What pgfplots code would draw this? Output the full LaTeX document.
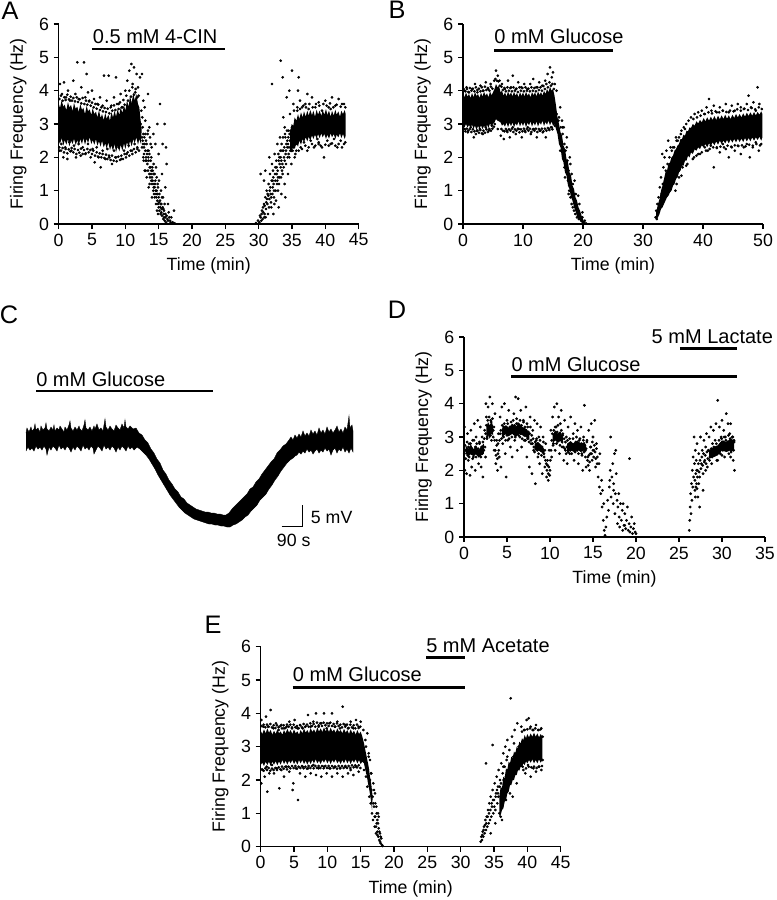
\documentclass[border=0pt]{standalone}
\usepackage{fontspec}
\setmainfont{Liberation Sans}
\usepackage{pgfplots}
\pgfplotsset{compat=1.18}
\newcommand{\fs}{\fontsize{13.3}{16}\selectfont}
\newcommand{\fa}{\fontsize{15}{18}\selectfont}
\newcommand{\fl}{\fontsize{19}{22}\selectfont}
\tikzset{ann/.style={font=\fa, anchor=base west, inner sep=0pt}}
\pgfplotsset{
 panel/.style={scale only axis, width=225pt, height=150pt, anchor=south west,
  axis x line*=bottom, axis y line*=left, ymin=0, ymax=6, ytick={0,1,2,3,4,5,6},
  tick align=outside, major tick length=3.75pt, minor tick num=0,
  major tick style={line width=1.1pt, black}, axis line style={line width=1.1pt, -},
  tick label style={font=\fs},
  /pgf/number format/assume math mode=true,
  xlabel={Time (min)}, ylabel={Firing Frequency (Hz)},
  every axis y label/.style={at={(axis description cs:-0.1347,0.5)}, rotate=90, anchor=center, font=\fs},
  every axis x label/.style={at={(axis description cs:0.5,-0.21)}, anchor=center, font=\fs},
  clip=false},
 dots/.style={only marks, mark=*, mark size=0.8pt, black},
 core/.style={fill=black, draw=none, mark=none},
 bar/.style={line width=2.2pt, black, mark=none},
}
\begin{document}
\begin{tikzpicture}
\path[use as bounding box] (0,0) rectangle (582pt,-675pt);

% ---------- Panel C and letters (pixel-coordinate canvas) ----------
\begin{axis}[scale only axis, width=582pt, height=675pt, at={(291pt,-337.5pt)}, anchor=center,
  xmin=0, xmax=776, ymin=0, ymax=900, y dir=reverse, hide axis, clip=false]
\addplot[fill=black, draw=black, line width=0.3pt, mark=none] coordinates {
(26,433)(27,428)(29,432)(31,427)(32,431)(34,429)(35,424)(36,430)(38,428)(40,432)(41,426)(43,430)(45,428)(46,423)(47,429)(49,431)(51,427)(53,430)(54,425)(55,431)(57,428)(59,430)(60,426)(62,429)(64,432)(65,427)(67,430)(69,425)(70,421)(71,428)(73,431)(75,427)(77,430)(79,426)(80,429)(82,431)(84,425)(85,420)(86,428)(88,430)(90,427)(92,431)(94,426)(95,429)(97,424)(99,430)(101,428)(103,431)(104,425)(105,419)(106,427)(108,430)(110,426)(112,429)(114,431)(116,425)(118,428)(120,430)(122,424)(124,428)(125,420)(126,427)(128,429)(130,426)
(133,429)(136,428)(139,433)(142,435)(145,440)(148,443)(151,449)(154,453)(157,459)(160,463)(163,470)(166,474)(169,480)(172,484)(175,489)(178,492)(181,497)(184,499)(187,503)(190,505)(193,507)(196,509)(199,510)(202,511)(205,512)(208,512)(211,513)(214,513)(217,514)(220,514)(223,515)(226,515)
(229,513)(232,509)(235,506)(238,503)(241,500)(244,497)(247,494)(250,489)(253,487)(256,482)(259,479)(262,474)(265,470)(268,466)(271,462)(274,459)(277,453)(280,450)(283,446)(286,444)
(289,440)(291,437)(293,440)(295,435)(297,438)(299,434)(301,437)(303,431)(305,436)(307,433)(309,436)(311,430)(313,434)(315,431)(317,435)(319,428)(321,433)(323,430)(325,434)(327,427)(329,432)(331,429)(333,433)(335,430)(337,426)(339,432)(341,429)(343,433)(345,427)(347,430)(348,423)(349,416)(350,428)(352,425)(353,431)
(353,452)(351,448)(349,453)(347,449)(345,452)(343,447)(341,451)(339,449)(337,453)(335,448)(333,450)(331,455)(329,449)(327,451)(325,448)(323,452)(321,450)(319,453)(317,449)(315,451)(313,454)(311,450)(309,452)(307,449)(305,453)(303,451)(301,454)(299,452)(297,455)(295,456)(293,458)(290,460)
(287,463)(284,467)(281,471)(278,476)(275,480)(272,485)(269,489)(266,494)(263,497)(260,500)(257,505)(254,508)(251,511)(248,515)(245,517)(242,520)(239,522)(236,524)(233,525)(230,527)(227,527)
(224,526)(221,526)(218,525)(215,525)(212,524)(209,524)(206,523)(203,522)(200,521)(197,520)(194,519)(191,517)(188,515)(185,513)(182,510)(179,507)(176,503)(173,499)(170,495)(167,490)(164,485)(161,480)(158,475)(155,469)(152,464)(149,459)(146,455)(143,452)(140,449)(137,447)
(134,450)(132,447)(130,449)(128,446)(126,451)(124,448)(122,446)(120,450)(118,447)(116,452)(114,448)(112,446)(110,450)(108,447)(106,449)(104,445)(102,451)(100,448)(98,446)(96,450)(94,454)(93,448)(91,446)(89,450)(87,447)(85,449)(83,445)(81,451)(79,448)(77,446)(75,450)(73,447)(71,452)(69,448)(67,446)(65,450)(63,447)(61,449)(59,445)(57,451)(55,448)(53,446)(51,450)(49,447)(47,455)(46,449)(44,446)(42,450)(40,447)(38,449)(36,446)(34,451)(32,448)(30,450)(28,447)(26,451)
};
\addplot[bar] coordinates {(36,391)(213,391)};
\node[ann] at (axis cs:36,386) {0 mM Glucose};
\addplot[line width=1pt, black, mark=none] coordinates {(281.7,526.7)(302.7,526.7)(302.7,505)};
\node[font=\fs, anchor=base west, inner sep=0pt] at (axis cs:310.7,523.3) {5 mV};
\node[font=\fs, anchor=base west, inner sep=0pt] at (axis cs:276.7,546.7) {90 s};
\node[font=\fl, inner sep=0pt] at (axis cs:10,11) {A};
\node[font=\fl, inner sep=0pt] at (axis cs:397,10) {B};
\node[font=\fl, inner sep=0pt] at (axis cs:9,315) {C};
\node[font=\fl, inner sep=0pt] at (axis cs:397,310) {D};
\node[font=\fl, inner sep=0pt] at (axis cs:213,625) {E};
\end{axis}

% ---------- Panel A ----------
\begin{axis}[panel, at={(44pt,-168pt)}, xmin=0, xmax=45, xtick={0,5,...,45}]
\addplot[core] coordinates {(0,3.62)(0.2,3.48)(0.45,3.71)(0.7,3.52)(0.9,3.58)(1.15,3.41)(1.4,3.66)(1.6,3.5)(1.85,3.57)(2.1,3.39)(2.3,3.63)(2.55,3.46)(2.8,3.52)(3.0,3.36)(3.25,3.6)(3.5,3.42)(3.7,3.49)(3.95,3.3)(4.2,3.55)(4.4,3.38)(4.65,3.44)(4.9,3.27)(5.1,3.48)(5.35,3.3)(5.6,3.37)(5.8,3.2)(6.05,3.41)(6.3,3.18)(6.5,3.3)(6.75,3.12)(7.0,3.33)(7.2,3.15)(7.45,3.28)(7.7,3.1)(7.9,3.36)(8.15,3.2)(8.4,3.4)(8.6,3.22)(8.85,3.44)(9.1,3.27)(9.3,3.5)(9.55,3.33)(9.8,3.56)(10.0,3.4)(10.25,3.7)(10.5,3.52)(10.7,3.85)(10.95,3.62)(11.2,3.95)(11.4,3.7)(11.65,3.9)(11.9,3.6)(12.1,3.5)(12.3,3.1)(12.45,2.85)
(12.35,2.4)(12.1,2.55)(11.9,2.38)(11.65,2.6)(11.4,2.42)(11.2,2.55)(10.95,2.33)(10.7,2.5)(10.5,2.28)(10.25,2.46)(10.0,2.25)(9.8,2.42)(9.55,2.2)(9.3,2.38)(9.1,2.18)(8.85,2.35)(8.6,2.15)(8.4,2.4)(8.15,2.2)(7.9,2.36)(7.7,2.22)(7.45,2.45)(7.2,2.25)(7.0,2.42)(6.75,2.3)(6.5,2.5)(6.3,2.32)(6.05,2.48)(5.8,2.35)(5.6,2.55)(5.35,2.38)(5.1,2.52)(4.9,2.4)(4.65,2.6)(4.4,2.42)(4.2,2.56)(3.95,2.38)(3.7,2.58)(3.5,2.4)(3.25,2.55)(3.0,2.35)(2.8,2.52)(2.55,2.37)(2.3,2.56)(2.1,2.4)(1.85,2.5)(1.6,2.33)(1.4,2.55)(1.15,2.38)(0.9,2.52)(0.7,2.35)(0.45,2.58)(0.2,2.4)(0,2.5)};
\addplot[core] coordinates {(34.7,2.75)(34.95,3.0)(35.2,2.95)(35.4,3.2)(35.65,3.1)(35.9,3.3)(36.1,3.15)(36.35,3.35)(36.6,3.2)(36.8,3.38)(37.05,3.22)(37.3,3.4)(37.5,3.25)(37.75,3.42)(38.0,3.26)(38.2,3.4)(38.45,3.22)(38.7,3.43)(38.9,3.28)(39.15,3.4)(39.4,3.24)(39.6,3.42)(39.85,3.28)(40.1,3.45)(40.3,3.27)(40.55,3.4)(40.8,3.22)(41.0,3.4)(41.25,3.25)(41.5,3.43)(41.7,3.28)(41.95,3.38)(42.2,3.22)(42.4,3.4)(42.65,3.3)(42.9,3.42)(43.05,3.3)
(43.05,2.65)(42.9,2.55)(42.65,2.7)(42.4,2.58)(42.2,2.72)(41.95,2.6)(41.7,2.68)(41.5,2.55)(41.25,2.7)(41.0,2.6)(40.8,2.72)(40.55,2.56)(40.3,2.68)(40.1,2.55)(39.85,2.7)(39.6,2.6)(39.4,2.72)(39.15,2.58)(38.9,2.7)(38.7,2.56)(38.45,2.68)(38.2,2.55)(38.0,2.66)(37.75,2.5)(37.5,2.62)(37.3,2.48)(37.05,2.6)(36.8,2.45)(36.6,2.55)(36.35,2.38)(36.1,2.5)(35.9,2.32)(35.65,2.42)(35.4,2.25)(35.2,2.35)(34.95,2.15)(34.7,2.2)};
\addplot[dots] coordinates {
(0.2,4.2)(0.5,3.9)(0.8,4.25)(1.1,3.8)(1.4,4.0)(1.7,3.7)(2.2,4.3)(2.5,3.9)(2.8,4.85)(3.0,3.75)(3.4,4.1)(3.8,4.85)(4.0,3.8)(4.2,4.5)(4.4,3.95)(4.6,3.7)(5.0,4.0)(5.3,3.75)(5.8,3.6)(6.2,3.8)(6.6,3.55)(6.8,4.45)(7.2,3.7)(7.5,4.45)(7.9,3.55)(8.3,3.8)(8.6,4.4)(9.0,3.6)(9.3,3.9)(9.6,3.5)(10.0,4.0)(10.3,4.3)(10.6,4.6)(10.9,4.8)(11.1,4.2)(11.3,4.7)(11.5,3.95)(11.7,4.5)(11.9,4.1)(12.2,4.4)(12.5,4.5)(12.7,3.7)
(0.1,2.2)(0.4,2.4)(0.7,2.0)(1.0,2.3)(1.3,1.95)(1.6,2.45)(1.9,2.2)(2.3,2.35)(2.6,2.0)(3.0,2.4)(3.3,2.05)(3.6,2.3)(4.0,2.1)(4.4,2.4)(4.8,2.0)(5.1,2.25)(5.4,1.85)(5.7,2.3)(6.0,2.0)(6.3,1.7)(6.6,2.2)(7.0,1.95)(7.3,2.25)(7.6,2.0)(8.0,1.8)(8.3,2.2)(8.6,2.0)(9.0,2.3)(9.4,1.95)(9.8,2.2)(10.2,2.1)(10.5,2.35)(11.0,2.2)(11.4,2.4)(11.8,2.25)
(0.1,3.75)(0.35,3.85)(0.6,3.7)(0.85,3.8)(1.05,3.72)(1.3,3.88)(1.55,3.74)(1.8,3.82)(2.0,3.7)(2.2,3.78)(2.45,3.68)(2.7,3.8)(2.9,3.66)(3.15,3.74)(3.4,3.62)(3.6,3.78)(3.85,3.6)(4.1,3.7)(4.3,3.58)(4.55,3.68)(4.8,3.55)(5.0,3.64)(5.25,3.5)(5.5,3.6)(5.7,3.46)(5.95,3.58)(6.2,3.42)(6.4,3.5)(6.65,3.38)(6.9,3.48)(7.1,3.36)(7.35,3.46)(7.6,3.32)(7.8,3.5)(8.05,3.4)(8.3,3.56)(8.5,3.42)(8.75,3.6)(9.0,3.45)(9.2,3.65)(9.45,3.5)(9.7,3.72)(9.9,3.58)(10.15,3.85)(10.4,3.7)(10.6,4.0)(10.85,3.82)(11.05,4.1)(11.3,3.88)(11.55,4.05)(11.8,3.8)(12.0,3.85)
(0.1,2.3)(0.35,2.2)(0.6,2.28)(0.8,2.15)(1.05,2.25)(1.3,2.12)(1.5,2.24)(1.75,2.18)(1.95,2.28)(2.2,2.15)(2.4,2.25)(2.65,2.1)(2.9,2.22)(3.1,2.14)(3.35,2.26)(3.6,2.1)(3.8,2.22)(4.05,2.12)(4.3,2.25)(4.5,2.15)(4.75,2.22)(5.0,2.1)(5.2,2.2)(5.45,2.05)(5.7,2.15)(5.9,2.02)(6.15,2.12)(6.4,2.0)(6.6,2.1)(6.85,1.98)(7.1,2.08)(7.3,1.95)(7.55,2.05)(7.8,1.92)(8.0,2.05)(8.25,1.9)(8.5,2.0)(8.7,1.88)(8.95,2.02)(9.2,1.92)(9.4,2.05)(9.65,1.95)(9.9,2.1)(10.1,2.0)(10.35,2.15)(10.6,2.05)(10.8,2.2)(11.05,2.1)(11.3,2.25)(11.55,2.15)(11.8,2.3)(12.05,2.2)
(12.3,3.0)(12.5,2.6)(12.6,2.9)(12.8,2.3)(12.9,3.5)(13.0,2.7)(13.1,2.0)(13.2,2.4)(13.3,1.8)(13.4,3.9)(13.5,2.2)(13.6,1.5)(13.7,2.6)(13.8,1.9)(13.9,1.3)(14.0,1.4)(14.1,1.6)(14.2,1.0)(14.3,1.2)(14.4,0.8)(14.5,2.4)(14.6,0.9)(14.7,1.4)(14.8,0.7)(14.9,1.1)(15.0,0.5)(15.1,0.9)(15.2,3.6)(15.3,0.6)(15.4,0.35)(15.5,0.8)(15.6,2.4)(15.7,0.45)(15.8,0.2)(15.9,0.6)(16.0,0.3)(16.2,1.8)(16.3,0.15)(16.5,0.35)(16.7,0.1)(16.9,0.2)(17.1,0.05)(17.3,0.4)(17.4,0.02)
(12.4,3.4)(13.0,3.1)(13.6,2.9)(14.2,2.7)(14.8,3.0)(15.0,2.1)(14.0,0.8)(13.5,1.1)(15.5,1.5)(16.0,1.1)(16.4,0.6)(14.6,1.7)(13.8,2.4)(13.2,1.4)(12.7,2.0)(15.9,3.0)(16.1,2.3)(13.4,2.8)(13.9,2.0)(14.4,1.5)(12.9,1.6)(14.9,0.3)
(12.5,2.3)(12.6,2.5)(12.7,2.7)(12.8,2.1)(12.9,2.4)(13.0,2.2)(13.1,2.5)(13.2,1.9)(13.3,2.2)(13.4,1.6)(13.5,1.9)(13.6,2.1)(13.7,1.4)(13.8,1.7)(13.9,1.6)(14.0,1.2)(14.1,1.3)(14.2,1.5)(14.3,0.9)(14.4,1.1)(14.5,1.3)(14.6,0.6)(14.7,1.0)(14.8,0.9)(14.9,0.6)(15.0,0.8)(15.1,0.4)(15.2,0.7)(15.3,0.3)(15.4,0.6)(15.5,0.25)(15.6,0.5)(15.7,0.15)(15.8,0.4)(15.9,0.1)(16.0,0.2)(16.1,0.05)(16.2,0.25)(16.4,0.1)(16.6,0.2)(16.8,0.05)(12.55,3.2)(12.75,1.9)(13.05,1.6)(13.35,2.7)(13.65,1.2)(13.95,2.3)(14.25,1.8)(14.55,1.0)(14.75,0.4)(15.05,1.3)(15.35,1.0)(15.65,0.8)
(12.65,2.4)(12.85,2.6)(13.05,1.9)(13.25,2.1)(13.45,2.0)(13.65,1.7)(13.85,1.5)(14.05,1.7)(14.25,1.1)(14.45,1.2)(14.65,0.8)(14.85,1.2)(15.05,0.65)(15.25,0.5)(15.45,0.45)(15.75,0.3)
(29.6,0.03)(29.9,0.1)(30.1,0.05)(30.3,0.2)(30.5,0.4)(30.6,0.15)(30.8,0.6)(30.9,0.3)(31.0,0.8)(31.1,0.45)(31.2,1.0)(31.3,0.6)(31.4,0.3)(31.5,1.2)(31.6,0.75)(31.7,1.5)(31.8,0.9)(31.9,0.5)(32.0,1.8)(32.1,1.1)(32.2,1.4)(32.3,0.8)(32.4,2.1)(32.5,1.3)(32.6,0.7)(32.7,1.7)(32.8,2.4)(32.9,1.0)(33.0,1.9)(33.1,1.4)(33.2,2.6)(33.3,1.7)(33.3,4.9)(33.4,0.9)(33.5,2.2)(33.6,1.5)(33.7,3.2)(33.8,2.0)(33.9,1.2)(34.0,2.6)(34.1,1.8)(34.2,3.8)(34.3,2.3)(34.4,1.5)(34.5,2.8)(34.6,2.0)(34.7,3.3)(34.8,2.5)(34.9,1.8)(35.0,4.6)(35.0,2.9)(35.1,2.2)(35.2,3.6)(35.3,2.6)(35.4,2.0)(35.5,3.1)(35.6,2.4)(35.8,3.4)(35.9,4.0)(36.0,4.4)(36.1,2.6)(36.2,3.7)
(32.0,4.2)(30.3,1.5)(30.8,1.3)(31.6,2.0)(33.0,0.5)(33.6,4.4)(34.0,0.8)(34.6,4.0)(31.0,1.6)(32.2,0.3)(33.9,2.9)(34.4,2.4)(33.4,1.9)(32.8,1.3)
(30.2,0.25)(30.4,0.1)(30.7,0.35)(30.9,0.55)(31.05,0.2)(31.25,0.75)(31.35,0.9)(31.55,0.5)(31.75,1.1)(31.85,0.65)(31.95,1.3)(32.05,0.9)(32.15,1.6)(32.25,1.2)(32.35,0.6)(32.45,1.5)(32.55,1.0)(32.65,1.9)(32.75,1.2)(32.85,1.6)(32.95,2.1)(33.05,1.2)(33.15,1.8)(33.25,2.2)(33.35,1.4)(33.45,2.4)(33.55,1.8)(33.65,2.6)(33.75,1.7)(33.85,2.3)(33.95,2.7)(34.05,2.1)(34.15,2.4)(34.25,2.8)(34.35,2.0)(34.45,2.6)(34.55,2.3)(34.65,2.7)(34.75,2.2)(34.85,2.8)(34.95,2.4)(35.05,2.6)(35.15,2.9)(35.25,2.3)(35.35,2.8)(35.45,2.5)(35.55,2.7)(35.65,2.2)(35.75,3.0)(35.85,2.5)
(30.45,0.3)(30.65,0.5)(30.85,0.2)(31.15,0.65)(31.45,0.85)(31.65,1.0)(31.9,0.8)(32.1,1.3)(32.3,1.0)(32.5,1.7)(32.7,1.5)(32.9,1.4)(33.1,2.0)(33.3,2.0)(33.5,1.6)(33.7,2.2)(33.9,1.9)(34.1,2.2)(34.3,2.5)(34.5,2.1)(34.7,2.5)(34.9,2.6)(35.1,2.5)(35.3,2.9)(35.5,2.4)(35.7,2.7)
(36.5,3.5)(37,3.6)(37.5,3.45)(38,3.8)(38.5,3.5)(39,3.65)(39.5,3.4)(40,3.7)(40.5,3.5)(41,3.8)(41.5,3.55)(42,3.75)(42.5,3.6)(43,3.5)(37.3,3.9)(40.8,3.45)
(36.3,2.3)(36.8,2.45)(37.3,2.2)(37.8,2.5)(38.3,2.3)(38.8,2.55)(39.3,2.35)(39.8,2.0)(40.3,2.5)(40.8,2.4)(41.3,2.55)(41.8,2.3)(42.3,2.5)(42.8,2.4)(39,2.45)
(35.3,3.4)(35.8,3.5)(36.2,3.45)(36.7,3.55)(37.1,3.5)(37.6,3.6)(38.1,3.5)(38.6,3.6)(39.1,3.55)(39.7,3.6)(40.2,3.55)(40.7,3.62)(41.2,3.5)(41.7,3.58)(42.3,3.52)(42.8,3.6)
(35.5,2.1)(36.0,2.2)(36.5,2.25)(37.0,2.35)(37.5,2.3)(38.0,2.4)(38.5,2.35)(39.0,2.4)(39.5,2.3)(40.0,2.38)(40.5,2.35)(41.0,2.42)(41.5,2.35)(42.0,2.4)(42.5,2.3)(43.0,2.45)
};
\addplot[bar] coordinates {(5,5.25)(25,5.25)};
\node[ann] at (axis cs:5.1,5.43) {0.5 mM 4-CIN};
\end{axis}

% ---------- Panel B ----------
\begin{axis}[panel, at={(347.25pt,-168pt)}, xmin=0, xmax=50, xtick={0,10,...,50}]
\addplot[core] coordinates {(0,3.92)(0.25,3.8)(0.5,3.95)(0.75,3.82)(1.0,3.9)(1.25,3.78)(1.5,3.93)(1.75,3.8)(2.0,3.96)(2.25,3.84)(2.5,3.9)(2.75,3.78)(3.0,3.94)(3.25,3.82)(3.5,3.97)(3.75,3.85)(4.0,3.92)(4.25,3.8)(4.5,3.98)(4.75,3.86)(5.0,3.95)(5.25,4.05)(5.5,4.2)(5.75,4.1)(6.0,4.15)(6.25,3.95)(6.5,4.0)(6.75,3.85)(7.0,3.95)(7.25,3.82)(7.5,3.98)(7.75,3.86)(8.0,3.95)(8.25,3.83)(8.5,3.97)(8.75,3.85)(9.0,3.93)(9.25,3.8)(9.5,3.96)(9.75,3.84)(10.0,3.95)(10.25,3.82)(10.5,3.97)(10.75,3.85)(11.0,3.92)(11.25,3.8)(11.5,3.96)(11.75,3.86)(12.0,3.95)(12.25,3.83)(12.5,3.98)(12.75,3.87)(13.0,3.96)(13.25,3.85)(13.5,4.0)(13.75,3.9)(14.0,4.05)(14.25,3.95)(14.5,4.12)(14.75,4.0)(15.0,4.05)(15.25,3.85)(15.5,3.55)(15.75,3.2)(16.0,3.0)(16.25,2.75)(16.5,2.65)(16.75,2.35)(17.0,2.25)(17.25,1.95)(17.5,1.85)(17.75,1.55)(18.0,1.45)(18.25,1.15)(18.5,1.05)(18.75,0.8)(19.0,0.7)(19.25,0.5)(19.5,0.4)(19.75,0.25)(20.0,0.15)(20.2,0.05)
(19.9,0.02)(19.6,0.08)(19.3,0.15)(19.0,0.22)(18.75,0.4)(18.5,0.5)(18.25,0.7)(18.0,0.8)(17.75,1.05)(17.5,1.15)(17.25,1.45)(17.0,1.55)(16.75,1.85)(16.5,1.95)(16.25,2.3)(16.0,2.4)(15.75,2.7)(15.5,2.85)(15.25,3.0)(15.0,2.95)(14.75,3.08)(14.5,2.96)(14.25,3.1)(14.0,2.98)(13.75,3.06)(13.5,2.94)(13.25,3.1)(13.0,2.98)(12.75,3.05)(12.5,2.92)(12.25,3.08)(12.0,2.95)(11.75,3.05)(11.5,2.92)(11.25,3.08)(11.0,2.96)(10.75,3.04)(10.5,2.9)(10.25,3.06)(10.0,2.94)(9.75,3.05)(9.5,2.92)(9.25,3.08)(9.0,2.95)(8.75,3.02)(8.5,2.9)(8.25,3.05)(8.0,2.93)(7.75,3.04)(7.5,2.9)(7.25,3.05)(7.0,2.92)(6.75,3.0)(6.5,2.95)(6.25,3.05)(6.0,3.08)(5.75,3.1)(5.5,3.15)(5.25,3.05)(5.0,3.0)(4.75,2.92)(4.5,3.02)(4.25,2.88)(4.0,2.98)(3.75,2.86)(3.5,2.95)(3.25,2.84)(3.0,2.96)(2.75,2.85)(2.5,2.94)(2.25,2.82)(2.0,2.95)(1.75,2.86)(1.5,2.98)(1.25,2.88)(1.0,2.97)(0.75,2.9)(0.5,3.0)(0.25,2.9)(0,3.0)};
\addplot[core] coordinates {(32.2,0.35)(32.5,0.6)(32.75,0.75)(33.0,1.0)(33.25,1.15)(33.5,1.35)(33.75,1.55)(34.0,1.6)(34.25,1.8)(34.5,1.85)(34.75,2.0)(35.0,2.05)(35.25,2.2)(35.5,2.25)(35.75,2.35)(36.0,2.4)(36.25,2.55)(36.5,2.55)(36.75,2.68)(37.0,2.65)(37.25,2.8)(37.5,2.78)(37.75,2.9)(38.0,2.88)(38.3,3.0)(38.6,2.95)(38.9,3.08)(39.2,3.02)(39.5,3.12)(39.8,3.05)(40.1,3.18)(40.4,3.08)(40.7,3.2)(41.0,3.1)(41.3,3.22)(41.6,3.12)(41.9,3.24)(42.2,3.12)(42.5,3.25)(42.8,3.14)(43.1,3.26)(43.4,3.15)(43.7,3.28)(44.0,3.16)(44.3,3.26)(44.6,3.15)(44.9,3.28)(45.2,3.18)(45.5,3.3)(45.8,3.2)(46.1,3.3)(46.4,3.2)(46.7,3.32)(47.0,3.22)(47.3,3.34)(47.6,3.24)(47.9,3.35)(48.2,3.25)(48.5,3.36)(48.8,3.26)(49.1,3.36)(49.4,3.28)(49.7,3.38)(49.9,3.3)
(49.9,2.6)(49.7,2.5)(49.4,2.62)(49.1,2.52)(48.8,2.6)(48.5,2.5)(48.2,2.6)(47.9,2.48)(47.6,2.58)(47.3,2.48)(47.0,2.58)(46.7,2.46)(46.4,2.56)(46.1,2.46)(45.8,2.56)(45.5,2.45)(45.2,2.55)(44.9,2.44)(44.6,2.54)(44.3,2.42)(44.0,2.52)(43.7,2.42)(43.4,2.5)(43.1,2.4)(42.8,2.5)(42.5,2.38)(42.2,2.48)(41.9,2.36)(41.6,2.45)(41.3,2.34)(41.0,2.42)(40.7,2.3)(40.4,2.4)(40.1,2.3)(39.8,2.36)(39.5,2.25)(39.2,2.3)(38.9,2.2)(38.6,2.24)(38.3,2.1)(38.0,2.15)(37.75,2.0)(37.5,2.05)(37.25,1.9)(37.0,1.9)(36.75,1.75)(36.5,1.75)(36.25,1.6)(36.0,1.55)(35.75,1.4)(35.5,1.35)(35.25,1.2)(35.0,1.15)(34.75,1.0)(34.5,0.95)(34.25,0.85)(34.0,0.8)(33.75,0.7)(33.5,0.6)(33.25,0.5)(33.0,0.45)(32.75,0.3)(32.5,0.2)(32.2,0.15)};
\addplot[dots] coordinates {
(0.2,4.0)(0.6,4.1)(1.0,3.95)(1.5,4.05)(2.0,4.2)(2.4,3.95)(2.9,4.15)(3.3,4.0)(3.8,4.25)(4.2,4.05)(4.6,4.2)(5.2,4.3)(5.5,4.6)(5.8,4.45)(6.1,4.3)(6.5,4.2)(7.0,4.05)(7.5,4.3)(8.0,4.1)(8.3,4.45)(8.8,4.05)(9.2,4.25)(9.7,4.1)(10.2,4.2)(10.7,4.05)(11.2,4.2)(11.7,4.35)(12.2,4.1)(12.7,4.25)(13.2,4.15)(13.7,4.3)(14.1,4.5)(14.5,4.7)(14.8,4.4)(15.0,4.55)(15.3,4.2)(15.6,4.0)
(0.3,2.85)(0.8,2.75)(1.3,2.9)(1.8,2.6)(2.3,2.8)(2.8,2.85)(3.3,2.7)(3.8,2.9)(4.3,2.8)(4.8,2.95)(5.3,3.0)(5.8,2.85)(6.3,2.65)(6.8,2.55)(7.3,2.8)(7.8,2.6)(8.3,2.9)(8.8,2.7)(9.3,2.85)(9.8,2.6)(10.3,2.8)(10.8,2.9)(11.3,2.7)(11.8,2.85)(12.3,2.6)(12.8,2.8)(13.3,2.75)(13.8,2.6)(14.3,2.85)(14.8,2.9)(15.3,2.95)
(0.1,4.05)(0.4,3.98)(0.65,4.05)(0.9,3.96)(1.15,4.08)(1.4,4.0)(1.65,4.06)(1.9,3.98)(2.15,4.1)(2.4,4.02)(2.65,4.06)(2.9,3.98)(3.15,4.1)(3.4,4.0)(3.65,4.12)(3.9,4.02)(4.15,4.08)(4.4,4.0)(4.65,4.12)(4.9,4.06)(5.4,4.35)(5.65,4.3)(5.9,4.28)(6.15,4.15)(6.4,4.12)(6.65,4.02)(6.9,4.08)(7.15,3.98)(7.4,4.1)(7.65,4.0)(7.9,4.08)(8.15,3.98)(8.4,4.1)(8.65,4.0)(8.9,4.06)(9.15,3.96)(9.4,4.1)(9.65,4.0)(9.9,4.08)(10.15,3.98)(10.4,4.1)(10.65,4.0)(10.9,4.06)(11.15,3.98)(11.4,4.1)(11.65,4.0)(11.9,4.08)(12.15,3.98)(12.4,4.1)(12.65,4.02)(12.9,4.1)(13.15,4.0)(13.4,4.14)(13.65,4.05)(13.9,4.2)(14.15,4.1)(14.4,4.25)(14.65,4.15)(14.9,4.2)(15.15,4.05)
(0.15,2.85)(0.4,2.78)(0.65,2.86)(0.9,2.8)(1.15,2.85)(1.4,2.76)(1.65,2.84)(1.9,2.78)(2.15,2.7)(2.4,2.8)(2.65,2.74)(2.9,2.82)(3.15,2.72)(3.4,2.8)(3.65,2.74)(3.9,2.84)(4.15,2.76)(4.4,2.85)(4.65,2.8)(4.9,2.86)(5.15,2.92)(6.4,2.85)(6.65,2.8)(6.9,2.78)(7.15,2.85)(7.4,2.76)(7.65,2.84)(7.9,2.8)(8.15,2.86)(8.4,2.76)(8.65,2.84)(8.9,2.8)(9.15,2.86)(9.4,2.75)(9.65,2.84)(9.9,2.78)(10.15,2.86)(10.4,2.76)(10.65,2.85)(10.9,2.8)(11.15,2.86)(11.4,2.76)(11.65,2.84)(11.9,2.8)(12.15,2.86)(12.4,2.76)(12.65,2.85)(12.9,2.8)(13.15,2.86)(13.4,2.78)(13.65,2.86)(13.9,2.8)(14.15,2.88)(14.4,2.82)(14.65,2.9)(14.9,2.84)
(15.6,3.3)(15.8,2.9)(16.0,3.2)(16.1,2.6)(16.3,2.9)(16.4,2.4)(16.6,2.7)(16.7,2.1)(16.9,2.4)(17.0,1.8)(17.1,2.2)(17.2,1.6)(17.4,1.9)(17.5,1.3)(17.6,1.6)(17.7,1.0)(17.8,1.4)(17.9,0.8)(18.0,1.1)(18.1,0.6)(18.2,0.9)(18.3,0.5)(18.4,0.8)(18.5,0.4)(18.6,0.7)(18.7,0.3)(18.9,0.55)(19.0,0.2)(19.2,0.4)(19.3,0.15)(19.5,0.3)(19.7,0.1)(19.9,0.2)(20.1,0.05)(20.3,0.1)(20.5,0.02)(16.2,3.5)(16.5,3.1)(17.3,2.6)(17.8,2.0)(18.3,1.2)(18.8,0.9)(19.4,0.6)(17.0,1.4)(17.6,0.9)(18.1,1.5)(16.8,2.9)
(15.9,3.1)(16.2,2.2)(16.6,2.9)(16.9,1.7)(17.3,2.3)(17.6,1.3)(17.9,1.8)(18.2,0.95)(18.6,1.3)(18.9,0.4)(19.2,0.85)(19.6,0.15)(19.9,0.35)
(32.1,0.2)(32.2,0.4)(32.3,0.15)(32.4,0.6)(32.5,0.35)(32.6,0.8)(32.8,1.1)(32.9,0.6)(33.0,1.4)(33.1,0.9)(33.2,2.1)(33.3,1.2)(33.4,1.7)(33.5,0.8)(33.6,2.0)(33.7,1.3)(33.8,1.6)(33.9,2.2)(34.0,1.1)(34.1,1.8)(34.2,2.5)(34.3,1.4)(34.4,2.0)(34.5,1.6)(34.6,2.3)(34.7,1.3)(34.8,2.2)(34.9,1.8)(35.0,2.3)(35.1,1.5)(35.2,2.3)(35.3,2.0)(35.5,2.6)(35.6,1.8)(35.8,2.5)(35.9,2.1)(36.0,2.6)(36.2,2.3)(36.4,2.8)(36.6,1.7)(36.8,2.9)(37.0,2.4)(37.2,3.0)(37.4,1.8)(37.6,3.1)(37.8,2.5)(38.0,3.2)(38.3,1.95)(38.6,3.3)(38.9,2.05)(39.2,3.35)(39.5,2.1)(39.8,3.4)(36.0,1.4)(35.4,1.0)
(40.2,3.3)(40.6,3.5)(41.0,3.75)(41.4,3.4)(41.8,3.55)(42.3,3.35)(42.8,3.5)(43.3,3.4)(43.8,3.6)(44.3,3.35)(44.8,3.55)(45.3,3.4)(45.8,3.6)(46.3,3.5)(46.8,3.45)(47.3,3.6)(47.6,3.85)(48.0,3.5)(48.4,3.65)(48.8,3.4)(49.1,4.1)(49.4,3.6)(49.8,3.45)
(40.3,2.3)(40.8,2.2)(41.3,2.35)(41.8,1.7)(42.3,2.3)(42.8,2.15)(43.3,2.4)(43.8,2.25)(44.3,2.0)(44.8,2.3)(45.3,2.2)(45.8,2.35)(46.3,2.1)(46.8,2.3)(47.3,2.4)(47.8,2.0)(48.3,2.3)(48.8,2.45)(49.3,2.2)(49.7,2.4)
(40.3,3.3)(40.9,3.35)(41.5,3.32)(42.1,3.38)(42.7,3.35)(43.3,3.4)(43.9,3.36)(44.5,3.4)(45.1,3.38)(45.7,3.44)(46.3,3.4)(46.9,3.46)(47.5,3.42)(48.1,3.48)(48.7,3.44)(49.3,3.5)(38.4,3.15)(39.0,3.2)(39.6,3.25)(37.0,2.85)(36.3,2.7)(35.6,2.5)
(40.5,2.2)(41.1,2.25)(41.7,2.3)(42.3,2.28)(42.9,2.32)(43.5,2.3)(44.1,2.35)(44.7,2.32)(45.3,2.36)(45.9,2.34)(46.5,2.36)(47.1,2.33)(47.7,2.38)(48.3,2.35)(48.9,2.4)(49.5,2.36)(38.5,2.0)(39.2,2.1)(39.8,2.15)(37.2,1.75)(36.4,1.45)(35.6,1.2)
};
\addplot[bar] coordinates {(5.2,5.2)(25,5.2)};
\node[ann] at (axis cs:5.2,5.43) {0 mM Glucose};
\end{axis}

% ---------- Panel D ----------
\begin{axis}[panel, at={(348pt,-402.75pt)}, width=225.75pt, xmin=0, xmax=35, xtick={0,5,...,35}]
\addplot[core] coordinates {(0.2,2.75)(0.5,2.65)(0.8,2.78)(1.1,2.62)(1.4,2.75)(1.7,2.6)(2.0,2.72)(2.3,2.8)(2.3,2.5)(2.0,2.45)(1.7,2.38)(1.4,2.5)(1.1,2.4)(0.8,2.52)(0.5,2.4)(0.2,2.5)};
\addplot[core] coordinates {(2.6,3.3)(2.8,3.45)(3.0,3.35)(3.2,3.5)(3.4,3.3)(3.4,3.05)(3.2,3.1)(3.0,2.95)(2.8,3.05)(2.6,2.95)};
\addplot[core] coordinates {(4.4,3.25)(4.8,3.35)(5.2,3.28)(5.6,3.4)(6.0,3.3)(6.4,3.42)(6.8,3.3)(7.2,3.25)(7.6,3.1)(7.6,2.9)(7.2,3.0)(6.8,3.05)(6.4,3.1)(6.0,3.0)(5.6,3.1)(5.2,3.02)(4.8,3.08)(4.4,2.98)};
\addplot[core] coordinates {(8.2,2.8)(8.6,2.85)(9.0,2.75)(9.3,2.65)(9.3,2.45)(9.0,2.55)(8.6,2.6)(8.2,2.6)};
\addplot[core] coordinates {(10.3,3.05)(10.6,3.2)(10.9,3.1)(11.2,3.18)(11.5,3.0)(11.5,2.8)(11.2,2.88)(10.9,2.82)(10.6,2.9)(10.3,2.8)};
\addplot[core] coordinates {(12.0,2.8)(12.4,2.88)(12.8,2.78)(13.2,2.9)(13.6,2.8)(14.0,2.85)(14.2,2.75)(14.2,2.55)(14.0,2.6)(13.6,2.55)(13.2,2.62)(12.8,2.55)(12.4,2.6)(12.0,2.55)};
\addplot[core] coordinates {(28.5,2.6)(29.0,2.7)(29.5,2.75)(30.0,2.9)(30.5,2.85)(31.0,2.95)(31.4,2.9)(31.4,2.6)(31.0,2.6)(30.5,2.55)(30.0,2.6)(29.5,2.45)(29.0,2.4)(28.5,2.35)};
\addplot[dots, mark size=0.85pt] coordinates {
(0.05,3.3)(0.1,2.0)(0.2,2.6)(0.3,1.9)(0.4,3.1)(0.5,2.3)(0.6,2.8)(0.7,1.85)(0.8,3.2)(0.9,2.1)(1.0,2.9)(1.1,2.4)(1.2,3.4)(1.3,2.0)(1.4,3.0)(1.5,2.5)(1.6,3.5)(1.7,2.2)(1.8,2.8)(1.9,3.3)(2.0,2.1)(2.1,3.0)(2.2,1.8)(2.3,2.6)(2.4,3.2)(2.5,2.4)(2.55,4.0)
(2.6,3.6)(2.7,3.0)(2.8,3.9)(2.9,3.3)(3.0,4.2)(3.1,3.5)(3.2,2.9)(3.3,4.0)(3.4,3.2)(3.5,2.6)(3.6,3.7)(3.7,2.2)(3.8,2.9)(3.9,2.0)(3.95,2.5)
(4.0,3.1)(4.1,2.4)(4.2,3.6)(4.3,2.1)(4.4,3.9)(4.5,2.8)(4.6,3.3)(4.7,4.0)(4.8,2.5)(4.9,1.8)(5.0,3.5)(5.1,2.9)(5.2,3.8)(5.4,2.7)(5.5,3.2)(5.6,2.4)(5.8,3.7)(5.9,2.9)(6.0,4.2)(6.1,3.4)(6.2,2.6)(6.3,4.15)(6.5,3.0)(6.6,3.8)(6.7,2.7)(6.9,3.5)(7.0,2.9)(7.2,3.9)(7.3,2.4)(7.4,3.3)(7.6,2.1)(7.7,3.6)(7.8,2.8)(7.9,1.9)(8.0,3.2)
(8.1,2.6)(8.2,3.5)(8.3,1.6)(8.4,2.9)(8.5,3.4)(8.6,2.4)(8.7,3.0)(8.8,2.2)(8.9,3.3)(9.0,2.7)(9.1,1.9)(9.2,3.0)(9.3,2.5)(9.4,2.1)(9.5,2.8)(9.6,1.8)(9.7,2.3)(9.8,1.7)(9.9,2.6)(10.0,2.0)
(10.1,3.2)(10.2,2.4)(10.3,3.6)(10.4,2.8)(10.5,3.9)(10.6,2.6)(10.7,3.3)(10.8,4.0)(10.9,2.9)(11.0,3.6)(11.1,2.5)(11.2,3.4)(11.3,3.8)(11.4,2.7)(11.5,3.1)(11.6,2.3)(11.7,3.5)(11.8,2.6)(11.9,3.0)(12.0,2.2)(12.1,3.3)(12.3,2.5)(12.4,3.6)(12.5,2.8)(12.7,3.1)(12.8,2.3)(12.9,3.4)(13.0,2.6)(13.2,3.2)(13.3,2.2)(13.4,2.9)(13.6,3.3)(13.7,2.5)(13.8,2.0)(13.9,3.0)(14.0,3.95)(14.1,2.6)(14.2,2.1)(14.3,2.9)(14.4,2.4)(14.5,3.2)(14.6,2.0)(14.7,2.7)(14.8,3.4)(14.9,2.3)(15.0,3.0)(15.1,2.6)(15.2,3.5)(15.3,2.1)(15.4,2.8)(15.5,2.4)
(0.04,2.5)(0.12,2.75)(0.2,2.35)(0.28,2.6)(0.36,2.85)(0.44,2.45)(0.52,2.7)(0.6,2.4)(0.68,2.55)(0.76,2.8)(0.84,2.5)(0.92,2.65)(1.0,2.35)(1.08,2.6)(1.16,2.9)(1.24,2.5)(1.32,2.7)(1.4,2.4)(1.48,2.8)(1.56,2.55)(1.64,2.65)(1.72,2.45)(1.8,2.85)(1.88,2.6)(1.96,2.4)(2.04,2.7)(2.12,2.5)(2.2,2.85)(2.28,2.6)(2.36,2.95)(2.44,2.7)
(2.52,3.1)(2.6,3.35)(2.68,2.95)(2.76,3.5)(2.84,3.2)(2.92,3.6)(3.0,3.3)(3.08,3.05)(3.16,3.45)(3.24,3.2)(3.32,3.55)(3.4,3.0)(3.48,3.3)(3.56,2.9)
(3.64,2.6)(3.72,2.45)(3.8,2.75)(3.88,2.35)(3.96,2.8)(4.04,2.6)(4.12,2.9)(4.2,3.1)
(4.28,3.2)(4.36,2.95)(4.44,3.35)(4.52,3.1)(4.6,3.0)(4.68,3.4)(4.76,3.15)(4.84,2.9)(4.92,3.3)(5.0,3.05)(5.08,3.4)(5.16,3.2)(5.24,2.95)(5.32,3.3)(5.4,3.1)(5.48,3.45)(5.56,3.0)(5.64,3.25)(5.72,3.5)(5.8,3.1)(5.88,3.35)(5.96,3.0)(6.04,3.3)(6.12,3.55)(6.2,3.15)(6.28,3.4)(6.36,3.05)(6.44,3.3)(6.52,3.5)(6.6,3.1)(6.68,3.35)(6.76,2.95)(6.84,3.25)(6.92,3.45)(7.0,3.05)(7.08,3.3)(7.16,2.9)(7.24,3.2)(7.32,3.4)(7.4,2.95)(7.48,3.15)(7.56,2.85)(7.64,3.1)(7.72,3.3)(7.8,2.9)(7.88,3.05)(7.96,2.8)
(8.04,2.95)(8.12,2.7)(8.2,2.55)(8.28,2.85)(8.36,2.65)(8.44,2.95)(8.52,2.6)(8.6,2.8)(8.68,2.5)(8.76,2.75)(8.84,2.9)(8.92,2.6)(9.0,2.45)(9.08,2.7)(9.16,2.55)(9.24,2.85)(9.32,2.4)(9.4,2.6)(9.48,2.3)
(9.56,2.2)(9.64,2.0)(9.72,2.15)(9.8,1.9)(9.88,2.1)(9.96,1.85)(10.04,2.3)
(10.12,2.6)(10.2,2.9)(10.28,3.1)(10.36,2.75)(10.44,3.2)(10.52,2.95)(10.6,3.3)(10.68,3.0)(10.76,2.8)(10.84,3.15)(10.92,3.35)(11.0,2.9)(11.08,3.1)(11.16,2.75)(11.24,3.0)(11.32,3.2)(11.4,2.85)(11.48,3.05)(11.56,2.7)(11.64,2.95)
(11.72,2.65)(11.8,2.85)(11.88,2.5)(11.96,2.7)(12.04,2.9)(12.12,2.55)(12.2,2.75)(12.28,2.95)(12.36,2.6)(12.44,2.8)(12.52,2.5)(12.6,2.7)(12.68,2.95)(12.76,2.65)(12.84,2.8)(12.92,2.55)(13.0,2.85)(13.08,3.0)(13.16,2.6)(13.24,2.8)(13.32,2.5)(13.4,2.75)(13.48,2.95)(13.56,2.6)(13.64,2.8)(13.72,2.45)(13.8,2.7)(13.88,2.9)(13.96,2.55)(14.04,2.75)(14.12,2.4)(14.2,2.65)(14.28,2.85)
(14.36,2.3)(14.44,2.15)(14.52,2.45)(14.6,2.25)(14.68,2.5)
(14.76,2.7)(14.84,2.5)(14.92,2.85)(15.0,2.6)(15.08,2.4)(15.16,2.75)(15.24,2.55)(15.32,2.35)(15.4,2.65)(15.48,2.2)
(15.6,1.8)(15.7,2.2)(15.75,1.5)(15.8,2.5)(15.9,1.3)(16.0,1.7)(16.05,0.9)(16.1,1.4)(16.2,0.5)(16.25,1.0)(16.3,0.2)(16.4,0.05)(16.5,0.3)(16.6,0.6)(16.7,1.1)(16.8,0.8)(16.9,1.5)(17.0,2.0)(17.05,3.0)(17.1,1.2)(17.2,1.8)(17.3,2.2)(17.35,1.0)(17.4,1.6)(17.5,2.5)(17.55,0.7)(17.6,1.3)(17.65,2.6)(17.7,1.9)(17.8,1.1)(17.85,0.4)(17.9,0.9)(18.0,1.3)(18.05,0.6)(18.1,0.3)(18.2,1.0)(18.3,0.5)(18.4,0.8)(18.45,0.2)(18.5,1.0)(18.6,0.35)(18.7,0.7)(18.8,0.25)(18.9,0.5)(19.0,0.9)(19.1,0.2)(19.2,0.4)(19.25,2.35)(19.3,0.15)(19.4,0.3)(19.5,0.6)(19.6,0.1)(19.7,0.25)(19.8,0.4)(19.9,0.15)(20.0,0.1)(18.7,0.35)(17.4,1.4)(16.95,1.7)
(26.2,0.2)(26.25,0.5)(26.3,0.9)(26.35,1.3)(26.4,0.7)(26.45,1.6)(26.5,1.1)(26.55,2.0)(26.6,1.5)(26.65,2.4)(26.7,1.8)(26.75,3.0)(26.8,2.2)(26.85,1.4)(26.9,2.6)(26.95,1.9)(27.0,2.3)(27.05,1.6)(27.1,2.8)(27.15,2.0)(27.2,1.2)(27.3,2.5)(27.4,1.8)(27.5,3.0)(27.6,2.2)(27.7,2.6)(27.8,1.9)(27.9,2.9)(28.0,2.3)(28.1,2.7)(28.2,3.1)(28.3,2.1)(28.4,2.6)(28.5,3.0)(28.6,2.4)(28.7,3.3)(28.8,2.2)(28.9,2.8)(29.0,3.2)(29.1,2.5)(29.2,2.9)(29.3,3.4)(29.4,2.3)(29.5,4.1)(29.6,2.7)(29.7,3.3)(29.8,2.5)(29.9,3.0)(30.0,3.5)(30.1,2.6)(30.2,3.2)(30.3,2.4)(30.4,3.0)(30.5,3.7)(30.6,2.7)(30.7,3.4)(30.8,2.5)(30.9,3.1)(31.0,3.4)(31.1,2.6)(31.2,3.0)(31.3,2.3)(31.4,2.9)(31.45,2.0)(27.4,0.9)(27.8,1.4)
(26.85,1.7)(26.95,1.5)(27.05,2.0)(27.15,1.8)(27.25,2.2)(27.35,1.95)(27.45,2.3)(27.55,2.05)(27.65,2.4)(27.75,2.15)(27.85,2.5)(27.95,2.25)(28.05,2.45)(28.15,2.2)(28.25,2.55)(28.35,2.35)(28.45,2.6)(28.55,2.3)(28.65,2.5)(28.75,2.65)(28.85,2.4)(28.95,2.55)(29.05,2.7)(29.15,2.45)(29.25,2.6)(29.35,2.8)(29.45,2.5)(29.55,2.7)(29.65,2.9)(29.75,2.6)(29.85,2.8)(29.95,2.95)(30.05,2.65)(30.15,2.85)(30.25,3.0)(30.35,2.7)(30.45,2.9)(30.55,2.6)(30.65,2.85)(30.75,3.05)(30.85,2.75)(30.95,2.95)(31.05,2.55)(31.15,2.8)(31.25,3.0)(31.35,2.6)(31.42,2.85)(26.9,1.2)(27.1,1.45)(27.3,1.6)(28.1,2.0)(29.5,2.3)(30.0,2.45)(31.0,2.4)
};
\addplot[bar] coordinates {(5.5,4.81)(31.7,4.81)};
\node[ann] at (axis cs:5.5,4.98) {0 mM Glucose};
\addplot[bar] coordinates {(25.1,5.66)(31.7,5.66)};
\node[ann] at (axis cs:21.8,5.82) {5 mM Lactate};
\end{axis}

% ---------- Panel E ----------
\begin{axis}[panel, at={(195.5pt,-635pt)}, xmin=0, xmax=45, xtick={0,5,...,45}]
\addplot[core] coordinates {(0,3.48)(0.25,3.38)(0.5,3.52)(0.75,3.4)(1.0,3.55)(1.25,3.42)(1.5,3.5)(1.75,3.36)(2.0,3.48)(2.25,3.38)(2.5,3.52)(2.75,3.4)(3.0,3.46)(3.25,3.36)(3.5,3.5)(3.75,3.4)(4.0,3.54)(4.25,3.42)(4.5,3.5)(4.75,3.38)(5.0,3.52)(5.25,3.4)(5.5,3.46)(5.75,3.36)(6.0,3.5)(6.25,3.4)(6.5,3.55)(6.75,3.42)(7.0,3.5)(7.25,3.4)(7.5,3.56)(7.75,3.44)(8.0,3.52)(8.25,3.42)(8.5,3.58)(8.75,3.45)(9.0,3.55)(9.25,3.44)(9.5,3.58)(9.75,3.46)(10.0,3.55)(10.25,3.44)(10.5,3.57)(10.75,3.45)(11.0,3.52)(11.25,3.42)(11.5,3.55)(11.75,3.44)(12.0,3.5)(12.25,3.4)(12.5,3.54)(12.75,3.42)(13.0,3.5)(13.25,3.38)(13.5,3.52)(13.75,3.4)(14.0,3.48)(14.25,3.36)(14.5,3.5)(14.75,3.38)(15.0,3.45)(15.25,3.3)(15.5,3.1)(15.75,2.85)(16.0,2.6)(16.2,2.4)(16.4,2.1)(16.6,1.85)(16.8,1.5)
(16.7,1.1)(16.5,1.45)(16.3,1.7)(16.1,1.9)(15.9,2.15)(15.7,2.3)(15.5,2.5)(15.25,2.55)(15.0,2.48)(14.75,2.6)(14.5,2.5)(14.25,2.62)(14.0,2.52)(13.75,2.6)(13.5,2.48)(13.25,2.6)(13.0,2.5)(12.75,2.62)(12.5,2.5)(12.25,2.6)(12.0,2.48)(11.75,2.58)(11.5,2.5)(11.25,2.62)(11.0,2.52)(10.75,2.6)(10.5,2.48)(10.25,2.6)(10.0,2.5)(9.75,2.62)(9.5,2.52)(9.25,2.6)(9.0,2.48)(8.75,2.58)(8.5,2.5)(8.25,2.62)(8.0,2.5)(7.75,2.6)(7.5,2.48)(7.25,2.58)(7.0,2.46)(6.75,2.58)(6.5,2.48)(6.25,2.6)(6.0,2.5)(5.75,2.6)(5.5,2.46)(5.25,2.58)(5.0,2.48)(4.75,2.6)(4.5,2.5)(4.25,2.58)(4.0,2.46)(3.75,2.58)(3.5,2.48)(3.25,2.6)(3.0,2.46)(2.75,2.56)(2.5,2.44)(2.25,2.56)(2.0,2.46)(1.75,2.55)(1.5,2.42)(1.25,2.55)(1.0,2.45)(0.75,2.55)(0.5,2.42)(0.25,2.52)(0,2.45)};
\addplot[core] coordinates {(35.8,1.5)(36.0,1.8)(36.2,1.75)(36.4,2.1)(36.6,2.05)(36.8,2.35)(37.0,2.3)(37.2,2.55)(37.4,2.5)(37.6,2.7)(37.8,2.65)(38.0,2.85)(38.2,2.8)(38.4,3.0)(38.6,2.95)(38.8,3.15)(39.0,3.1)(39.2,3.25)(39.4,3.2)(39.6,3.35)(39.8,3.25)(40.0,3.38)(40.25,3.28)(40.5,3.4)(40.75,3.3)(41.0,3.42)(41.25,3.3)(41.5,3.4)(41.75,3.28)(42.0,3.38)(42.25,3.3)
(42.25,2.6)(42.0,2.52)(41.75,2.62)(41.5,2.5)(41.25,2.6)(41.0,2.5)(40.75,2.62)(40.5,2.52)(40.25,2.6)(40.0,2.5)(39.8,2.56)(39.6,2.45)(39.4,2.5)(39.2,2.38)(39.0,2.4)(38.8,2.28)(38.6,2.3)(38.4,2.15)(38.2,2.15)(38.0,2.0)(37.8,2.0)(37.6,1.85)(37.4,1.85)(37.2,1.65)(37.0,1.6)(36.8,1.4)(36.6,1.35)(36.4,1.15)(36.2,1.1)(36.0,0.95)(35.8,0.9)};
\addplot[dots] coordinates {
(0.1,3.8)(0.4,3.6)(0.8,3.9)(1.1,3.6)(1.5,4.1)(1.9,3.55)(2.3,3.7)(2.7,3.5)(3.1,3.65)(3.5,3.55)(3.9,3.6)(4.3,3.75)(4.7,3.55)(5.1,3.8)(5.5,3.55)(5.9,3.65)(6.3,3.55)(6.7,3.6)(7.1,3.95)(7.5,3.6)(7.9,3.75)(8.3,4.0)(8.7,3.6)(9.1,3.7)(9.5,4.0)(9.9,3.55)(10.3,3.7)(10.7,4.0)(11.1,3.6)(11.5,3.75)(11.9,3.55)(12.3,4.2)(12.7,3.65)(13.1,3.55)(13.5,3.75)(13.9,3.55)(14.3,3.8)(14.7,3.6)(15.0,3.75)
(0.1,1.9)(0.3,2.3)(0.6,2.1)(0.9,2.4)(1.0,1.65)(1.3,2.2)(1.7,2.45)(2.0,2.2)(2.4,2.35)(2.8,1.75)(3.1,2.3)(3.5,2.1)(3.9,2.4)(4.3,2.25)(4.8,1.7)(4.9,1.9)(5.3,2.35)(5.6,1.4)(5.9,2.2)(6.3,2.4)(6.7,2.1)(7.1,2.35)(7.5,2.2)(7.9,2.45)(8.3,2.15)(8.7,2.35)(9.1,2.1)(9.5,2.4)(9.9,2.2)(10.3,2.35)(10.7,2.1)(11.1,2.4)(11.5,2.2)(11.9,2.35)(12.3,2.1)(12.7,2.4)(13.1,2.2)(13.5,2.3)(13.9,2.15)(14.3,2.4)(14.7,2.25)
(0.15,3.62)(0.45,3.66)(0.7,3.58)(0.95,3.66)(1.2,3.6)(1.45,3.68)(1.7,3.58)(1.95,3.64)(2.2,3.56)(2.45,3.64)(2.7,3.58)(2.95,3.62)(3.2,3.55)(3.45,3.64)(3.7,3.56)(3.95,3.66)(4.2,3.6)(4.45,3.66)(4.7,3.58)(4.95,3.66)(5.2,3.58)(5.45,3.62)(5.7,3.55)(5.95,3.64)(6.2,3.58)(6.45,3.68)(6.7,3.6)(6.95,3.66)(7.2,3.6)(7.45,3.7)(7.7,3.62)(7.95,3.68)(8.2,3.6)(8.45,3.72)(8.7,3.64)(8.95,3.7)(9.2,3.62)(9.45,3.72)(9.7,3.64)(9.95,3.7)(10.2,3.62)(10.45,3.72)(10.7,3.62)(10.95,3.68)(11.2,3.6)(11.45,3.7)(11.7,3.62)(11.95,3.66)(12.2,3.58)(12.45,3.68)(12.7,3.6)(12.95,3.66)(13.2,3.56)(13.45,3.66)(13.7,3.58)(13.95,3.64)(14.2,3.55)(14.45,3.66)(14.7,3.56)(14.95,3.6)
(0.2,2.32)(0.45,2.28)(0.7,2.35)(0.95,2.3)(1.2,2.36)(1.45,2.28)(1.7,2.34)(1.95,2.3)(2.2,2.36)(2.45,2.3)(2.7,2.38)(2.95,2.32)(3.2,2.4)(3.45,2.34)(3.7,2.4)(3.95,2.32)(4.2,2.4)(4.45,2.35)(4.7,2.42)(4.95,2.36)(5.2,2.42)(5.45,2.34)(5.7,2.4)(5.95,2.36)(6.2,2.42)(6.45,2.35)(6.7,2.4)(6.95,2.34)(7.2,2.42)(7.45,2.36)(7.7,2.42)(7.95,2.35)(8.2,2.42)(8.45,2.36)(8.7,2.42)(8.95,2.36)(9.2,2.42)(9.45,2.35)(9.7,2.42)(9.95,2.36)(10.2,2.42)(10.45,2.35)(10.7,2.42)(10.95,2.36)(11.2,2.4)(11.45,2.34)(11.7,2.42)(11.95,2.36)(12.2,2.42)(12.45,2.36)(12.7,2.42)(12.95,2.36)(13.2,2.42)(13.45,2.36)(13.7,2.44)(13.95,2.38)(14.2,2.44)(14.45,2.38)(14.7,2.44)(14.95,2.36)
(15.2,2.9)(15.4,3.5)(15.5,2.3)(15.6,2.7)(15.7,3.2)(15.8,2.1)(15.9,2.5)(16.0,1.8)(16.1,2.3)(16.2,2.8)(16.3,1.5)(16.4,2.0)(16.5,1.3)(16.55,2.2)(16.6,1.7)(16.7,1.0)(16.8,1.5)(16.85,0.8)(16.9,1.9)(17.0,1.2)(17.1,0.6)(17.15,1.6)(17.2,0.9)(17.3,0.4)(17.35,1.2)(17.4,0.7)(17.5,0.45)(17.6,1.0)(17.65,0.3)(17.7,0.55)(17.8,0.2)(17.9,0.4)(18.0,0.1)(18.1,0.25)(18.2,0.05)(18.3,0.02)(16.0,3.4)(16.4,2.6)(17.5,0.8)(17.7,0.9)
(15.6,2.7)(15.8,3.0)(16.0,2.2)(16.2,2.7)(16.4,1.8)(16.6,2.2)(16.9,1.3)(17.0,1.7)(17.1,0.9)(17.2,1.3)(17.3,0.6)(17.4,1.0)(17.5,0.35)(17.6,0.7)(17.8,0.45)(17.9,0.15)(18.0,0.3)
(33.0,0.15)(33.1,0.3)(33.2,0.2)(33.3,0.45)(33.4,0.3)(33.5,0.6)(33.6,0.4)(33.7,0.8)(33.8,2.5)(33.8,0.5)(33.9,0.9)(34.0,0.6)(34.1,1.1)(34.2,0.7)(34.3,1.3)(34.4,0.8)(34.5,1.5)(34.6,0.9)(34.7,1.2)(34.8,3.05)(34.8,1.7)(34.9,1.0)(35.0,1.4)(35.1,1.9)(35.2,1.1)(35.3,1.6)(35.4,2.1)(35.5,1.3)(35.6,1.8)(35.7,2.3)(35.8,1.0)(35.9,2.0)(36.0,1.5)(36.1,2.5)(36.2,1.2)(36.3,2.2)(36.4,2.8)(36.5,1.8)(36.6,2.4)(36.7,3.0)(36.8,2.1)(36.9,2.6)(37.0,3.2)(37.1,2.3)(37.3,2.9)(37.5,4.45)(37.5,2.5)(37.7,3.3)(37.8,1.5)(37.9,2.7)(38.1,3.5)(38.3,2.8)(38.5,3.7)(38.7,3.0)(38.9,2.5)(34.5,0.4)(35.2,0.7)(36.0,0.9)(36.8,1.4)
(33.25,0.35)(33.45,0.5)(33.65,0.65)(33.85,0.7)(34.05,0.9)(34.25,1.0)(34.45,1.1)(34.65,1.3)(34.85,1.4)(35.05,1.2)(35.25,1.5)(35.45,1.7)(35.65,1.5)(35.85,1.8)(36.05,1.9)(36.25,1.7)(36.45,2.0)(36.65,1.8)
(39.1,3.6)(39.5,3.5)(39.9,3.8)(40.2,3.85)(40.5,3.6)(40.9,3.5)(41.3,3.65)(41.7,3.5)(42.1,3.55)(39.3,2.4)(39.7,2.2)(40.1,2.45)(40.5,2.1)(40.9,2.35)(41.3,2.25)(41.7,2.4)(42.1,2.3)(42.3,2.6)(42.3,3.3)
(39.2,3.45)(39.6,3.5)(40.0,3.52)(40.4,3.55)(40.8,3.5)(41.2,3.55)(41.6,3.5)(42.0,3.52)(39.4,2.3)(39.8,2.35)(40.2,2.4)(40.6,2.38)(41.0,2.4)(41.4,2.36)(41.8,2.4)(42.2,2.42)(37.0,2.7)(37.4,1.6)(38.0,3.1)(38.4,1.9)(36.4,2.4)(35.6,1.6)(36.2,0.8)
};
\addplot[bar] coordinates {(4.8,4.78)(30.7,4.78)};
\node[ann] at (axis cs:4.8,4.95) {0 mM Glucose};
\addplot[bar] coordinates {(24.8,5.68)(30.7,5.68)};
\node[ann] at (axis cs:24.8,5.83) {5 mM Acetate};
\end{axis}
\end{tikzpicture}
\end{document}
